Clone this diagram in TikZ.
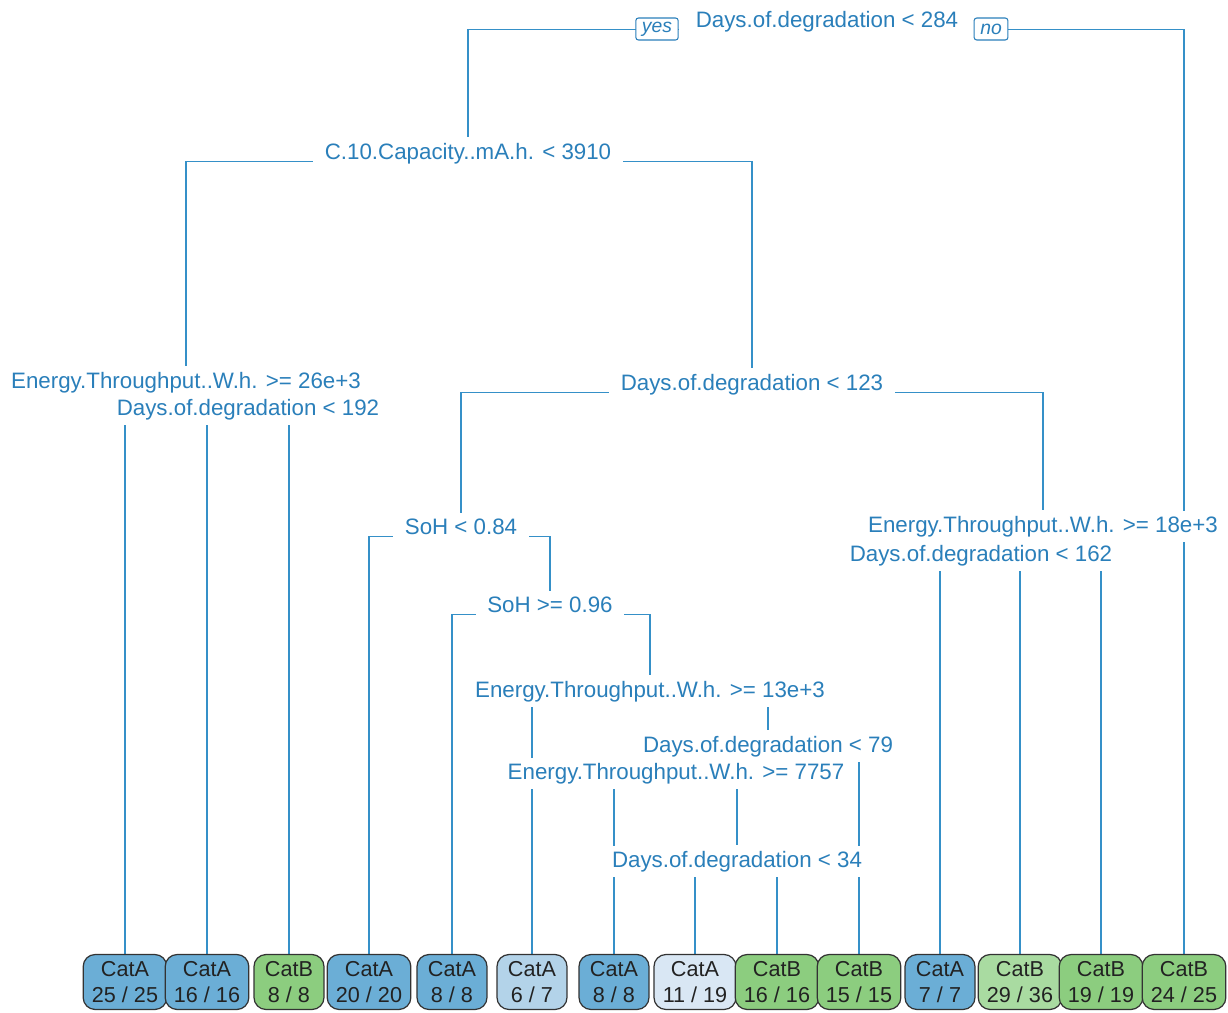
\documentclass[tikz,border=0pt]{standalone}
\usepackage{fontspec}
\setmainfont{Liberation Sans}
\usepackage{tikz}

\definecolor{splitblue}{HTML}{2A7FBA}
\definecolor{branchblue}{HTML}{3590C8}
\definecolor{leafline}{HTML}{333333}
\definecolor{leaftext}{HTML}{222222}
\definecolor{fillA}{HTML}{6BAED6}
\definecolor{fillAlight}{HTML}{B3D3E9}
\definecolor{fillAfaint}{HTML}{D9E7F4}
\definecolor{fillB}{HTML}{8CCD7F}
\definecolor{fillBlight}{HTML}{A9DBA1}

\pgfdeclarelayer{background}
\pgfsetlayers{background,main}

\begin{document}
\begin{tikzpicture}[x=0.02cm, y=-0.02cm,
	split/.style={anchor=base, text=splitblue, fill=white, inner xsep=6.5pt, inner ysep=3pt, font=\fontsize{12.7}{15}\selectfont},
	leaf/.style={draw=leafline, line width=0.7pt, rounded corners=0.24cm, align=center, minimum width=1.4cm, minimum height=1.1cm, inner xsep=5pt, text=leaftext, font=\fontsize{12.3}{14.8}\selectfont},
	yn/.style={draw=splitblue, fill=white, line width=0.6pt, rounded corners=1.5pt, inner xsep=3.5pt, inner ysep=0pt, minimum height=0.44cm, text=splitblue, font=\fontsize{11}{12}\selectfont\itshape},
	branch/.style={draw=branchblue, line width=0.9pt}]
	\useasboundingbox (0,0) rectangle (1228,1012);

	\node[split, inner xsep=9.5pt] (root) at (827,27) {Days.of.degradation < 284};
	\node[split] (cap) at (468,159) {C.10.Capacity..mA.h. < 3910};
	\node[split] (eA) at (186,388) {Energy.Throughput..W.h. >= 26e+3};
	\node[split] (dA) at (248,415) {Days.of.degradation < 192};
	\node[split] (dB) at (752,390) {Days.of.degradation < 123};
	\node[split] (soh1) at (461,534) {SoH < 0.84};
	\node[split] (soh2) at (550,612) {SoH >= 0.96};
	\node[split] (eB) at (650,697) {Energy.Throughput..W.h. >= 13e+3};
	\node[split] (dC) at (768,752) {Days.of.degradation < 79};
	\node[split] (eC) at (676,779) {Energy.Throughput..W.h. >= 7757};
	\node[split] (dD) at (737,867) {Days.of.degradation < 34};
	\node[split] (eD) at (1043,532) {Energy.Throughput..W.h. >= 18e+3};
	\node[split] (dE) at (981,561) {Days.of.degradation < 162};

	\node[yn] (yes) at (657,29) {yes};
	\node[yn] (no) at (991,29) {no};

	\node[leaf, fill=fillA] (l1) at (125,982) {CatA\\25 / 25};
	\node[leaf, fill=fillA] (l2) at (207,982) {CatA\\16 / 16};
	\node[leaf, fill=fillB] (l3) at (289,982) {CatB\\8 / 8};
	\node[leaf, fill=fillA] (l4) at (369,982) {CatA\\20 / 20};
	\node[leaf, fill=fillA] (l5) at (452,982) {CatA\\8 / 8};
	\node[leaf, fill=fillAlight] (l6) at (532,982) {CatA\\6 / 7};
	\node[leaf, fill=fillA] (l7) at (614,982) {CatA\\8 / 8};
	\node[leaf, fill=fillAfaint] (l8) at (695,982) {CatA\\11 / 19};
	\node[leaf, fill=fillB] (l9) at (777,982) {CatB\\16 / 16};
	\node[leaf, fill=fillB] (l10) at (859,982) {CatB\\15 / 15};
	\node[leaf, fill=fillA] (l11) at (940,982) {CatA\\7 / 7};
	\node[leaf, fill=fillBlight] (l12) at (1020,982) {CatB\\29 / 36};
	\node[leaf, fill=fillB] (l13) at (1101,982) {CatB\\19 / 19};
	\node[leaf, fill=fillB] (l14) at (1184,982) {CatB\\24 / 25};

	\begin{pgfonlayer}{background}
	\foreach \p/\c in {root/cap, root/l14, cap/eA, cap/dB, eA/l1, eA/dA, dA/l2, dA/l3,
		dB/soh1, dB/eD, soh1/l4, soh1/soh2, soh2/l5, soh2/eB, eB/l6, eB/dC,
		dC/eC, dC/l10, eC/l7, eC/dD, dD/l8, dD/l9, eD/dE, eD/l13, dE/l11, dE/l12}
		\draw[branch] ([yshift=-1.5pt]\p.base) -| (\c.north);
	\end{pgfonlayer}
\end{tikzpicture}
\end{document}
